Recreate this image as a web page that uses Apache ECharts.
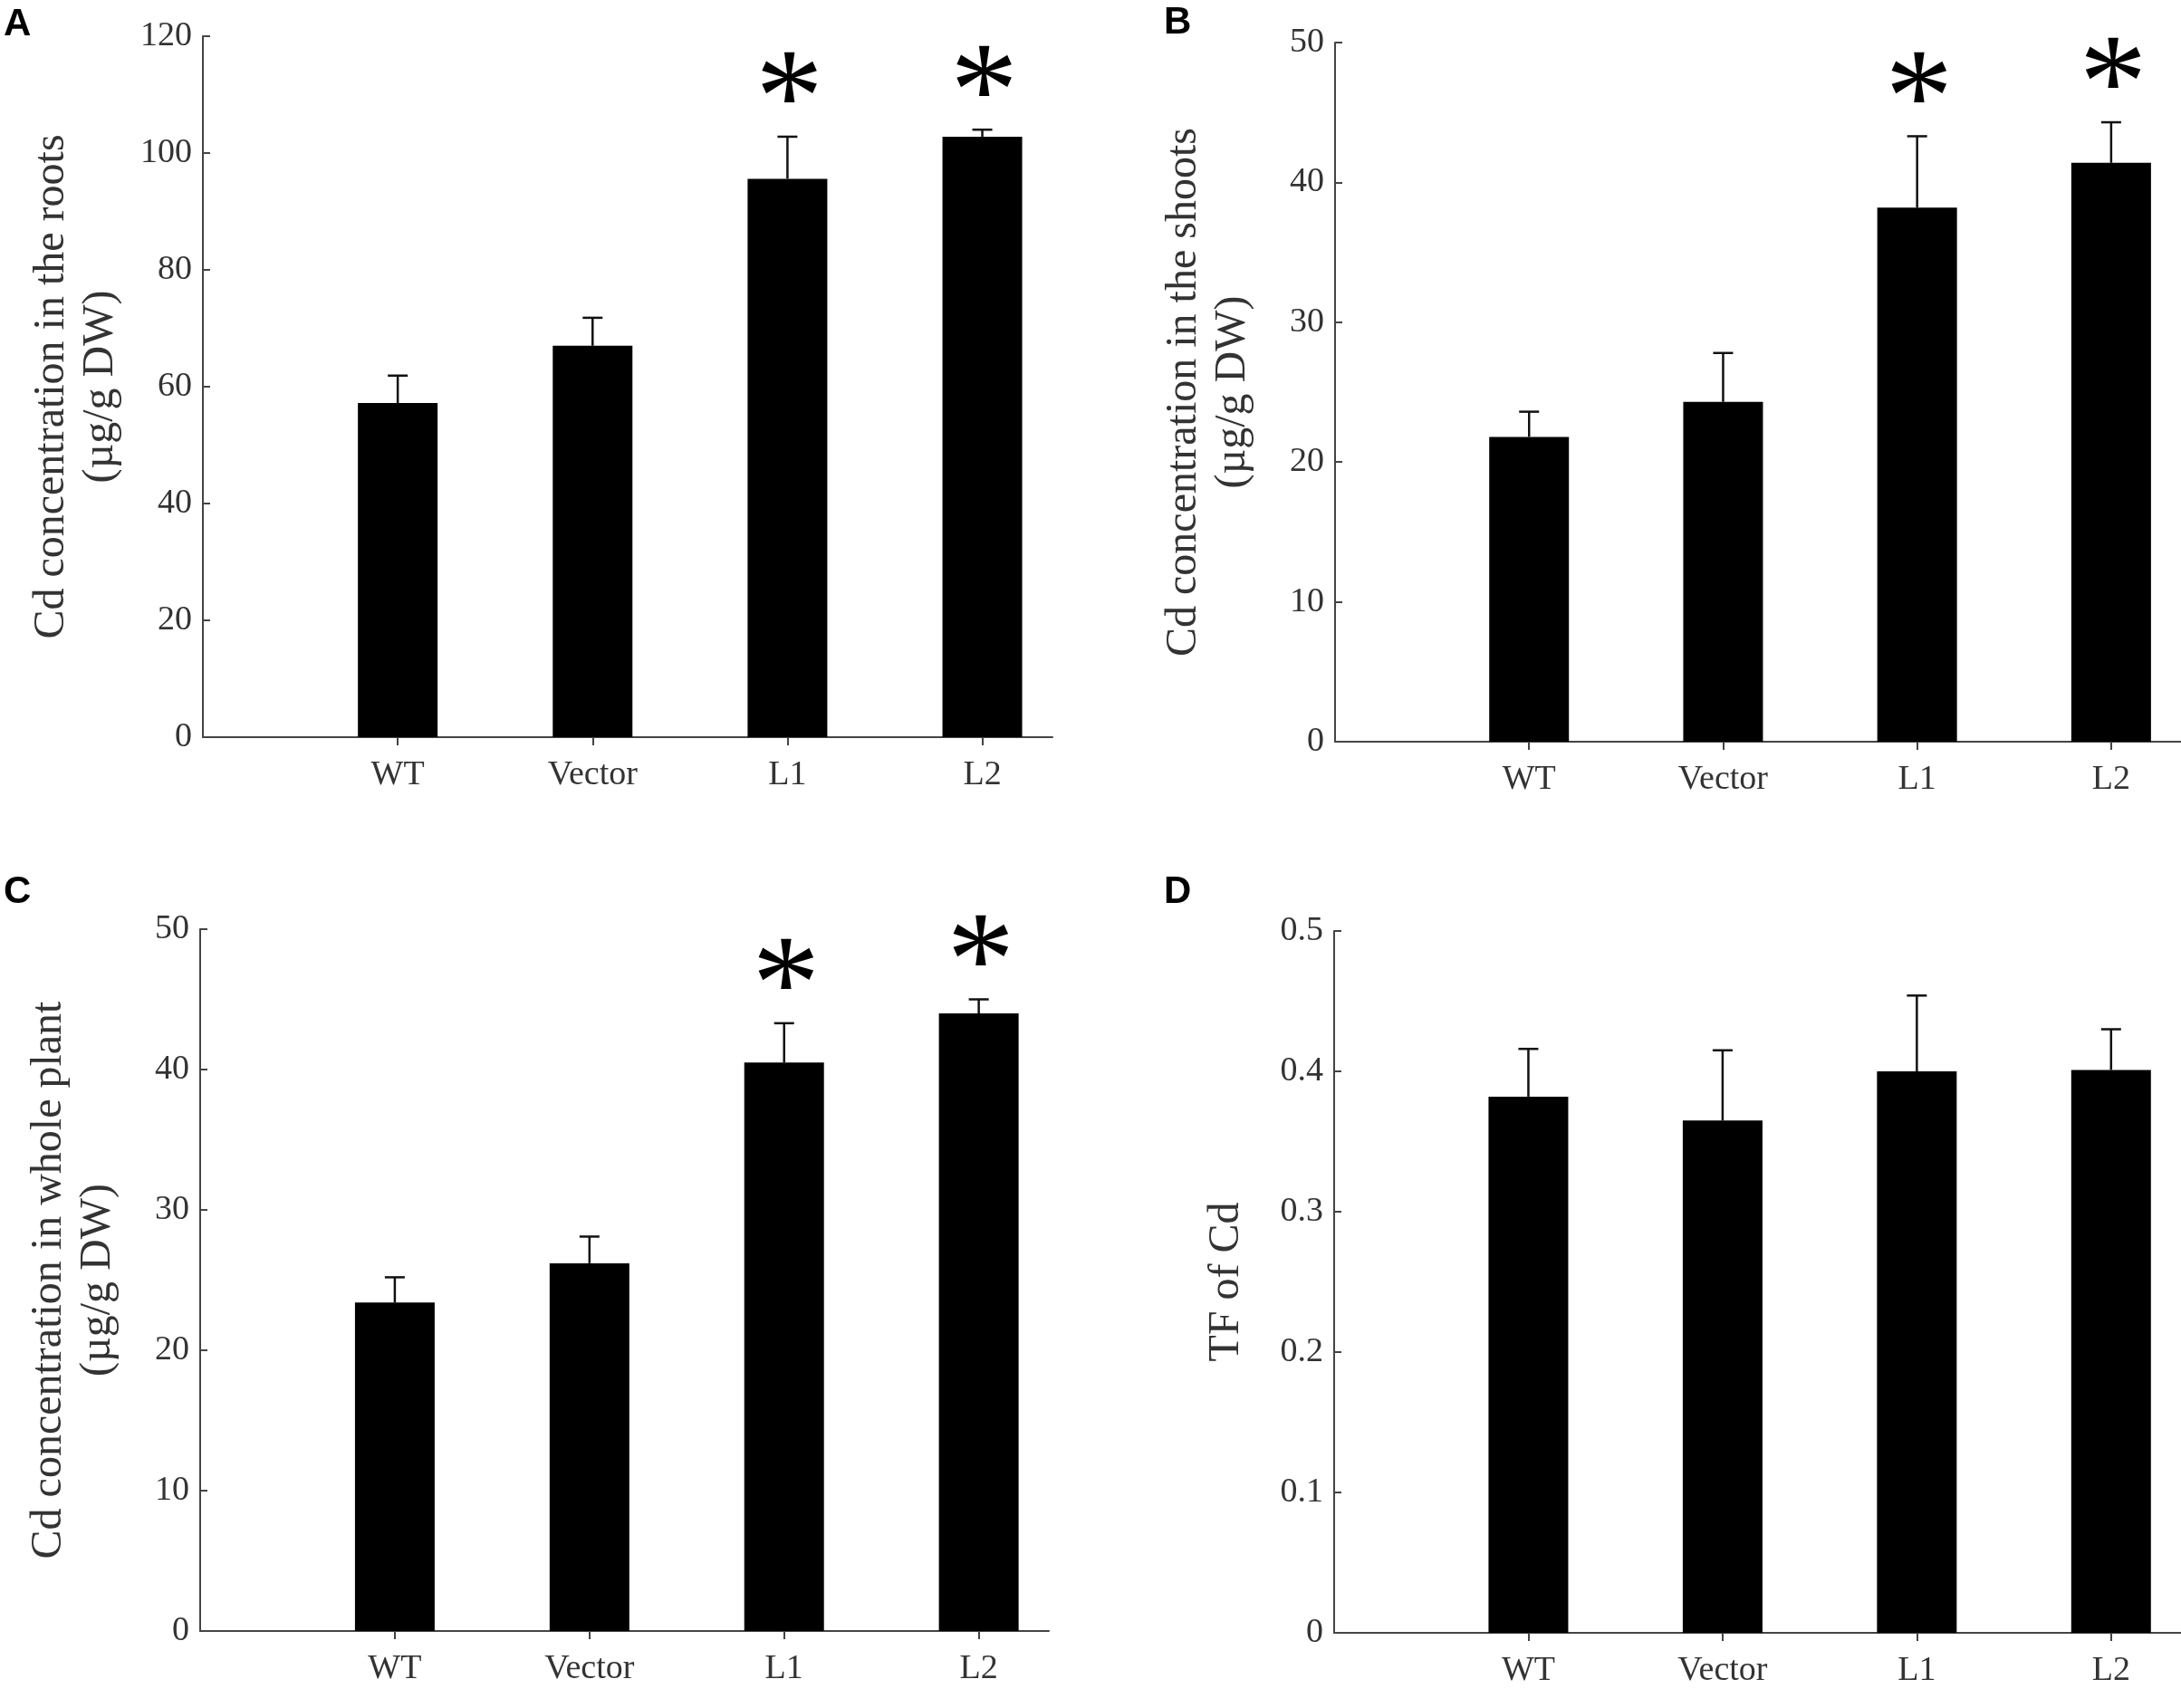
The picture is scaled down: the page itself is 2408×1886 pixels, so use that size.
<!DOCTYPE html>
<html>
<head>
    <meta charset="UTF-8">
    <title>Cd concentration</title>
    <script type="text/javascript" src="https://cdn.jsdelivr.net/npm/echarts@6/dist/echarts.min.js"></script>
    <style>
        html, body { margin: 0; padding: 0; background: #fff; }
        #main { width: 2408px; height: 1886px; }
    </style>
</head>
<body>
<div id="main"></div>
<script type="text/javascript">
    // 数据
    var categories = ['WT', 'Vector', 'L1', 'L2'];

    var rootsMean = [57.2, 67.0, 95.6, 102.8];
    var rootsErr = [4.7, 4.8, 7.2, 1.2];
    var rootsMarks = ['', '', '*', '*'];

    var shootsMean = [21.8, 24.3, 38.2, 41.4];
    var shootsErr = [1.8, 3.5, 5.1, 2.9];
    var shootsMarks = ['', '', '*', '*'];

    var plantMean = [23.4, 26.2, 40.5, 44.0];
    var plantErr = [1.8, 1.9, 2.8, 1.0];
    var plantMarks = ['', '', '*', '*'];

    var tfMean = [0.382, 0.365, 0.400, 0.401];
    var tfErr = [0.034, 0.050, 0.054, 0.029];
    var tfMarks = ['', '', '', ''];

    var serif = '"Liberation Serif", "Times New Roman", serif';

    function xAxisOf(gi) {
        return {
            type: 'value', gridIndex: gi, min: 0, max: 4.36,
            axisLine: {show: true, lineStyle: {color: '#444', width: 2}},
            axisTick: {show: true, inside: false, length: 9, customValues: [1, 2, 3, 4], lineStyle: {color: '#444', width: 2}},
            axisLabel: {
                customValues: [1, 2, 3, 4], margin: 23,
                fontFamily: serif, fontSize: 38, color: '#333',
                formatter: function (v) { return categories[Math.round(v) - 1] || ''; }
            },
            splitLine: {show: false}
        };
    }

    function yAxisOf(gi, max, interval, name, gap) {
        return {
            type: 'value', gridIndex: gi, min: 0, max: max, interval: interval,
            name: name, nameLocation: 'middle', nameGap: gap, nameRotate: 90,
            nameTextStyle: {fontFamily: serif, fontSize: 48, color: '#333', lineHeight: 54},
            axisLine: {show: true, lineStyle: {color: '#444', width: 2}},
            axisTick: {show: true, inside: true, length: 8, lineStyle: {color: '#444', width: 2}},
            axisLabel: {margin: 12, fontFamily: serif, fontSize: 38, color: '#333'},
            splitLine: {show: false}
        };
    }

    function barSeries(gi, means) {
        return {
            type: 'bar', xAxisIndex: gi, yAxisIndex: gi, barWidth: 88,
            itemStyle: {color: '#000'},
            data: means.map(function (m, i) { return [i + 1, m]; }),
            z: 2
        };
    }

    function errSeries(gi, means, errs, marks) {
        return {
            type: 'custom', xAxisIndex: gi, yAxisIndex: gi, z: 3,
            data: means.map(function (m, i) { return [i + 1, m, errs[i]]; }),
            renderItem: function (params, api) {
                var x = api.value(0), m = api.value(1), e = api.value(2);
                var base = api.coord([x, m]);
                var top = api.coord([x, m + e]);
                var st = {stroke: '#111', lineWidth: 2.5};
                var children = [
                    {type: 'line', shape: {x1: base[0], y1: base[1], x2: top[0], y2: top[1]}, style: st},
                    {type: 'line', shape: {x1: top[0] - 11, y1: top[1], x2: top[0] + 11, y2: top[1]}, style: st}
                ];
                var mark = marks[params.dataIndex];
                if (mark) {
                    children.push({
                        type: 'text',
                        style: {
                            text: mark, x: top[0] + 2, y: top[1] - 34,
                            align: 'center', verticalAlign: 'middle',
                            font: '150px ' + serif, fill: '#000'
                        }
                    });
                }
                return {type: 'group', children: children};
            }
        };
    }

    var myChart = echarts.init(document.getElementById('main'));
    myChart.setOption({
        backgroundColor: '#fff',
        animation: false,
        grid: [
            {left: 224, top: 40, width: 938, height: 774, containLabel: false, outerBoundsMode: 'none'},
            {left: 1474, top: 47, width: 934, height: 772, containLabel: false, outerBoundsMode: 'none'},
            {left: 221, top: 1026, width: 937, height: 775, containLabel: false, outerBoundsMode: 'none'},
            {left: 1473, top: 1028, width: 935, height: 775, containLabel: false, outerBoundsMode: 'none'}
        ],
        xAxis: [xAxisOf(0), xAxisOf(1), xAxisOf(2), xAxisOf(3)],
        yAxis: [
            yAxisOf(0, 120, 20, 'Cd concentration in the roots\n(\u00b5g/g DW)', 86),
            yAxisOf(1, 50, 10, 'Cd concentration in the shoots\n(\u00b5g/g DW)', 86),
            yAxisOf(2, 50, 10, 'Cd concentration in whole plant\n(\u00b5g/g DW)', 86),
            yAxisOf(3, 0.5, 0.1, 'TF of Cd', 92)
        ],
        graphic: [
            {type: 'text', left: 4, top: 6, style: {text: 'A', font: 'bold 42px "Liberation Sans", Arial, sans-serif', fill: '#000'}},
            {type: 'text', left: 1285, top: 4, style: {text: 'B', font: 'bold 42px "Liberation Sans", Arial, sans-serif', fill: '#000'}},
            {type: 'text', left: 4, top: 964, style: {text: 'C', font: 'bold 42px "Liberation Sans", Arial, sans-serif', fill: '#000'}},
            {type: 'text', left: 1285, top: 964, style: {text: 'D', font: 'bold 42px "Liberation Sans", Arial, sans-serif', fill: '#000'}}
        ],
        series: [
            barSeries(0, rootsMean), errSeries(0, rootsMean, rootsErr, rootsMarks),
            barSeries(1, shootsMean), errSeries(1, shootsMean, shootsErr, shootsMarks),
            barSeries(2, plantMean), errSeries(2, plantMean, plantErr, plantMarks),
            barSeries(3, tfMean), errSeries(3, tfMean, tfErr, tfMarks)
        ]
    });
</script>
</body>
</html>
